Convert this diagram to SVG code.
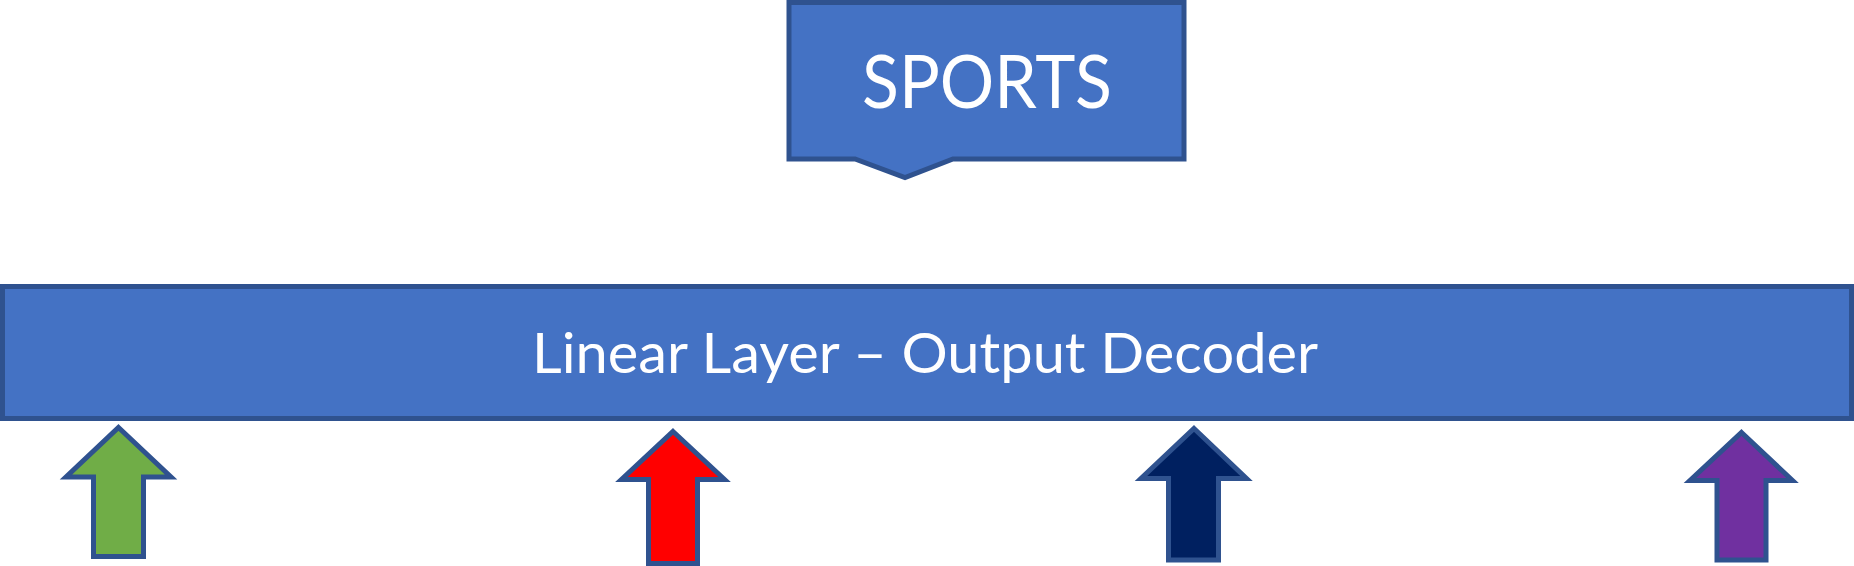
<svg xmlns="http://www.w3.org/2000/svg" width="1854" height="566" viewBox="0 0 1854 566">
<style>
.box{fill:#4472C4;stroke:#2F528F;stroke-width:5;stroke-linejoin:miter}
.arr{stroke:#2F528F;stroke-width:5;stroke-linejoin:miter}
.t{fill:#FFFFFF;font-family:Lato,"Open Sans","Liberation Sans",sans-serif;text-anchor:middle}
</style>
<rect width="1854" height="566" fill="#FFFFFF"/>
<g id="sports">
<path class="box" d="M789,2.5 H1184 V159 H953 L905,177.5 L855,159 H789 Z"/>
<text class="t" x="987" y="108" font-size="74" textLength="250" lengthAdjust="spacingAndGlyphs">SPORTS</text>
</g>
<g id="linear-layer">
<rect class="box" x="2.5" y="286.5" width="1849" height="132"/>
<text class="t" x="925" y="373" font-size="57" textLength="786" lengthAdjust="spacingAndGlyphs">Linear Layer – Output Decoder</text>
</g>
<g id="connectors">
<polygon id="arrow-green" class="arr" fill="#70AD47" points="118.5,427.5 171,477 143.5,477 143.5,556.5 93.5,556.5 93.5,477 66,477"/>
<polygon id="arrow-red" class="arr" fill="#FF0000" points="673,431.5 724.5,479.5 697.5,479.5 697.5,563.5 648.5,563.5 648.5,479.5 621.5,479.5"/>
<polygon id="arrow-navy" class="arr" fill="#002060" points="1194,428.5 1246.5,478.5 1218.5,478.5 1218.5,560 1168.5,560 1168.5,478.5 1141,478.5"/>
<polygon id="arrow-purple" class="arr" fill="#7030A0" points="1741.5,432.5 1792.5,480.5 1766,480.5 1766,560 1717,560 1717,480.5 1690,480.5"/>
</g>
</svg>
